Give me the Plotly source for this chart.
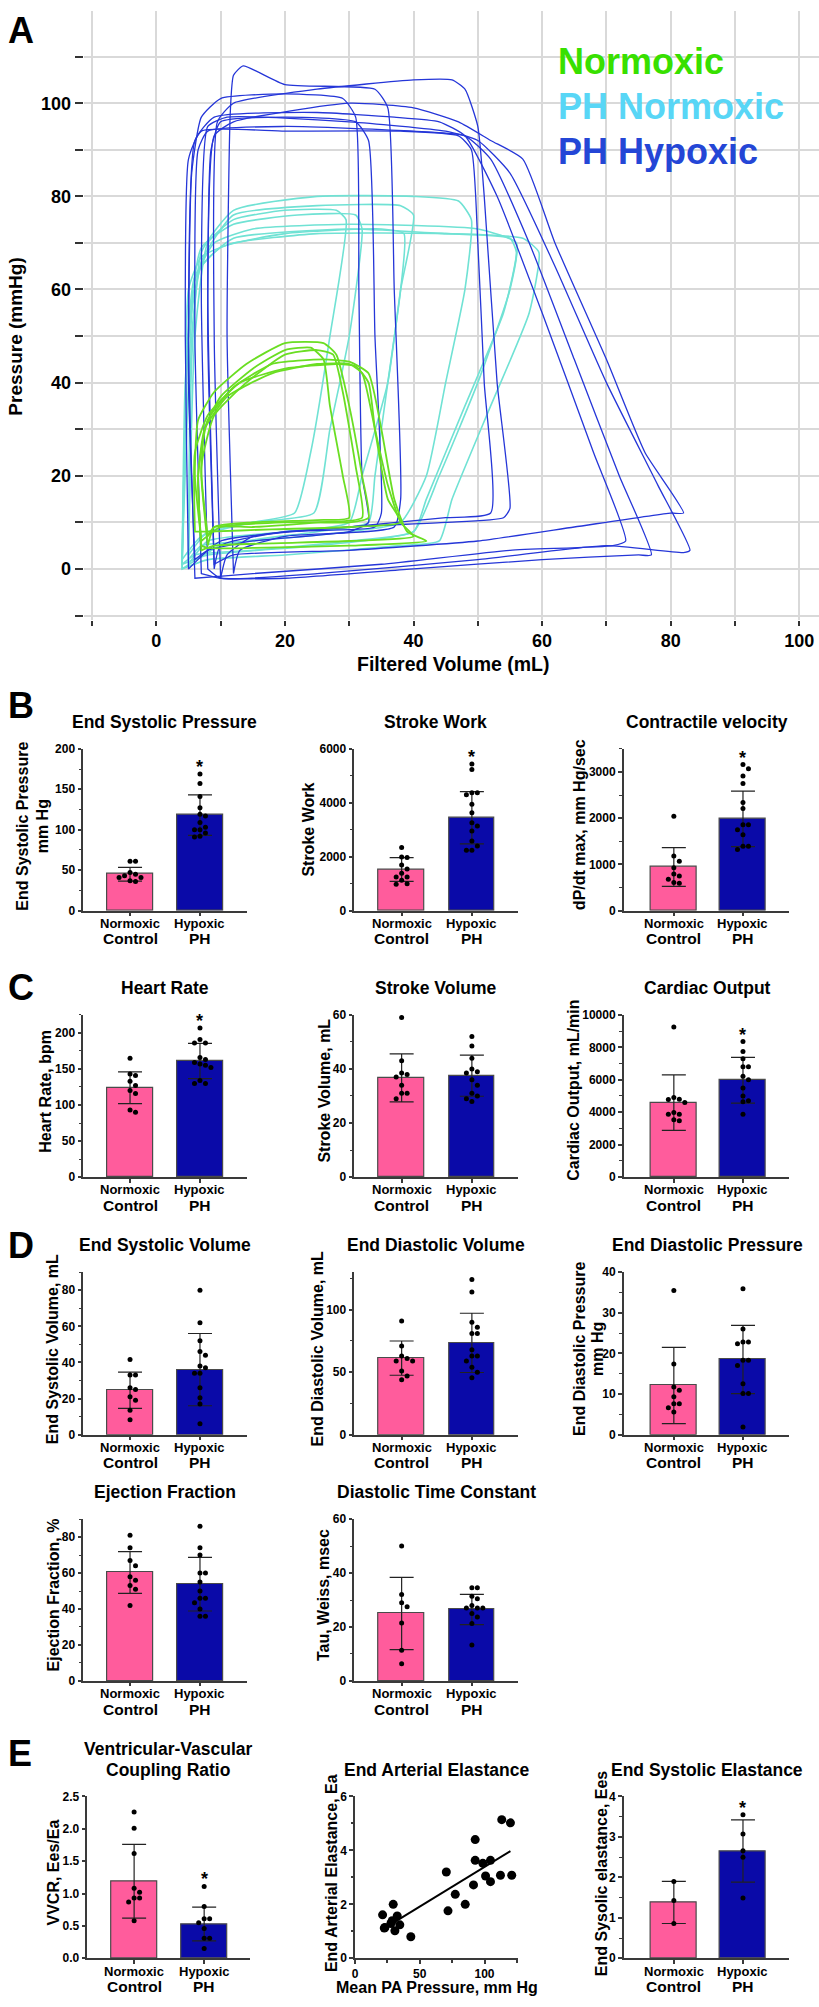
import numpy as np
import plotly.graph_objects as go

# ---------------- DATA ----------------
# Panel A: pressure-volume loops, (volume mL, pressure mmHg) vertices
NORMOXIC_LOOPS = [
    [(7,6),(6,20),(6.5,32),(9,38),(14,44),(20,48.5),(26,48.5),(28,46),(30,35),(32,20),(33,11),(30,10),(20,10),(10,9),(7,6)],
    [(8,5),(7,20),(7.5,30),(10,37),(15,43),(20,47),(24,47.5),(26,45),(27,35),(29,20),(30,11),(25,10.5),(15,10),(9,9),(8,5)],
    [(6,8),(6,25),(8,33),(13,40),(20,43),(28,44),(31,43.5),(33,40),(34,30),(36,15),(38,10),(30,9),(18,8.5),(8,8),(6,8)],
    [(7,4),(6.5,20),(7.5,30),(11,37),(18,42),(25,44),(30,44),(32,42),(34,30),(36,18),(38,10),(40,7),(30,6),(18,5.5),(9,5),(7,4)],
    [(8,7),(7,22),(9,33),(14,40),(20,46),(25,47),(27.5,46),(29,38),(31,22),(32,11),(25,10),(15,9),(9,9),(8,7)],
    [(7,5),(6.5,20),(8,32),(12,39),(18,44),(26,45),(30,44.5),(33,42),(35,30),(37,15),(39,8),(42,6),(30,5),(15,4.5),(8,4.5),(7,5)],
]
PH_NORMOXIC_LOOPS = [
    [(4,0),(4.5,30),(5,60),(7,67),(12,70),(25,72),(45,72),(57,71),(59.5,68),(58,55),(52,35),(46,15),(44,6),(38,5),(20,3),(8,2),(4,0)],
    [(4,1),(5,40),(6,62),(9,70),(15,73),(30,74),(50,73),(56,70),(55,60),(50,40),(44,20),(40,8),(30,6),(15,4),(6,3),(4,1)],
    [(5,2),(5.5,45),(7,68),(12,77),(25,80),(40,80),(47,79),(49,75),(48,60),(45,40),(42,20),(38,10),(30,8),(15,6),(7,5),(5,2)],
    [(5,3),(6,50),(8,70),(12,75),(20,77),(28,77),(29.5,75),(27,50),(24,25),(21.5,12),(15,10),(8,8),(5,3)],
    [(4,2),(5,50),(7,69),(12,74),(22,76),(31,76),(32,73),(30,50),(27,30),(24.5,12),(15,10),(7,7),(4,2)],
    [(4,0),(4.5,40),(6,63),(10,69),(20,72),(35,73),(38.5,72),(38,60),(36,40),(34,20),(33,10),(25,8),(10,5),(4,0)],
    [(4,1),(5,50),(7,65),(12,71),(30,73),(45,72),(55,71),(56,68),(54,55),(48,35),(42,15),(40,8),(25,5),(8,3),(4,1)],
    [(5,1),(5.5,50),(7,66),(12,76),(25,78),(38,78),(40,76),(38,60),(36,40),(32,20),(30,10),(20,8),(8,6),(5,1)],
]
PH_HYPOXIC_LOOPS = [
    [(6,2),(5,40),(5.5,85),(7,97),(10,101),(20,102),(29,101),(31,97),(31.5,60),(32,20),(33,10),(30,8),(15,6),(8,4),(6,2)],
    [(9,0),(8,50),(8.5,90),(10,96),(20,97),(31,96),(33,92),(34,50),(35,12),(34,9),(20,8),(10,5),(9,0)],
    [(12,-1),(11,50),(11.5,98),(12,106),(13.5,108),(20,104),(34,103),(36,99),(37,60),(38,15),(37,9),(20,7),(13,4),(12,-1)],
    [(10,-2),(9,50),(9.5,96),(12,100),(25,103),(40,105),(46,105),(48,103),(50,95),(51,80),(53,40),(55,13),(54,11),(45,10),(30,9),(15,7),(11,3),(10,-2)],
    [(7,-1),(6,50),(6.5,90),(8,94),(20,95),(40,94),(48,93),(52,88),(58,70),(65,45),(72,20),(77,3),(75,3),(60,2),(40,0),(20,-2),(10,-2),(7,-1)],
    [(8,0),(7,60),(8,95),(11,97),(30,96),(45,94),(50,92),(55,85),(62,65),(70,40),(78,18),(83,4),(82,3.5),(70,5),(50,2),(25,-1),(10,-2),(8,0)],
    [(9,1),(8,60),(9,93),(12,96),(30,100),(40,99),(47,96),(52,92),(57,88),(62,70),(70,45),(76,25),(82,12),(80,12),(65,9),(50,6),(30,4),(12,3),(9,1)],
    [(6,-2),(5,50),(6,92),(9,97),(25,98),(37,97),(44,96),(48,93),(53,80),(60,55),(68,25),(73,6),(71,5),(55,4),(35,1),(15,-1),(6,-2)],
    [(5,0),(4.5,50),(5,88),(7,94),(20,94),(38,94),(47,93),(49,90),(50,70),(51,40),(52,12),(45,11),(30,9),(10,6),(5,0)],
]

GROUPS = ["Normoxic", "Hypoxic"]
GROUPS_L2 = ["Control", "PH"]

ESP_norm = [61, 61, 47, 45, 43, 41, 41, 37, 36]
ESP_hyp = [169, 157, 141, 127, 119, 117, 109, 103, 100, 100, 96, 92, 91]
ESP_mean = [45, 118]
ESP_sd = [8.5, 25]

SW_norm = [2340, 1990, 1970, 1690, 1540, 1390, 1250, 1250, 1130, 1000, 980]
SW_hyp = [5440, 5230, 4370, 4370, 4300, 3940, 3630, 3260, 3140, 2950, 2580, 2400, 2240, 2240]
SW_mean = [1525, 3444]
SW_sd = [443, 970]

DPDT_norm = [2040, 1180, 1070, 930, 790, 750, 680, 610, 590]
DPDT_hyp = [3160, 3070, 2910, 2750, 2340, 2210, 1860, 1860, 1750, 1640, 1390, 1390, 1320]
DPDT_mean = [943, 1986]
DPDT_sd = [420, 600]

HR_norm = [165, 143, 141, 133, 127, 120, 116, 93, 90]
HR_hyp = [207, 191, 186, 186, 166, 163, 159, 157, 155, 152, 134, 130, 130]
HR_mean = [124, 161]
HR_sd = [22, 24.5]

SV_norm = [59, 43, 38.5, 38, 37, 34, 31, 31, 29]
SV_hyp = [52, 48.5, 44, 40, 39, 38.5, 36, 34, 31, 30, 29, 28]
SV_mean = [36.7, 37.5]
SV_sd = [8.9, 7.6]

CO_norm = [9250, 4900, 4800, 4790, 4600, 3980, 3880, 3870, 3530, 3470]
CO_hyp = [8360, 7750, 7300, 6800, 6800, 6220, 6000, 5500, 5000, 4700, 4650, 3880]
CO_mean = [4592, 5976]
CO_sd = [1715, 1410]

ESV_norm = [41.6, 33, 33, 26, 25, 21, 19, 13.5, 8.3]
ESV_hyp = [80, 62, 52, 46, 44, 38, 37, 34, 34, 26, 20.5, 17, 6]
ESV_mean = [24.6, 36]
ESV_sd = [10, 20]

EDV_norm = [91, 71, 63, 61, 59, 59, 51, 47, 44]
EDV_hyp = [124, 114, 90, 86, 81, 81, 68, 63, 63, 59, 54, 50, 45.5]
EDV_mean = [61.2, 73.4]
EDV_sd = [13.7, 23.7]

EDP_norm = [35.5, 17.4, 11.7, 10.9, 9.3, 7.6, 7.6, 6.6, 5.6]
EDP_hyp = [35.9, 26, 22.8, 22.8, 22.4, 18.3, 18.3, 17, 12.5, 10.1, 10.1, 1.9]
EDP_mean = [12.1, 18.5]
EDP_sd = [9.4, 8.4]

EF_norm = [81, 74, 67, 64, 58, 56, 53, 51, 42]
EF_hyp = [86, 74, 70, 60, 60, 55, 50, 46, 46, 43.5, 40, 36, 36]
EF_mean = [60.3, 53.8]
EF_sd = [11.6, 14.9]

TAU_norm = [50, 32, 29, 27.5, 21.5, 11.4, 6.4]
TAU_hyp = [34.5, 34.5, 31.4, 30.5, 28, 27, 27, 27, 25, 23.7, 21.3, 13.3]
TAU_mean = [25, 26.5]
TAU_sd = [13.4, 5.6]

VVCR_norm = [2.26, 2.01, 1.62, 1.08, 1.02, 0.93, 0.93, 0.87, 0.58]
VVCR_hyp = [1.11, 0.80, 0.61, 0.61, 0.55, 0.46, 0.31, 0.31, 0.15]
VVCR_mean = [1.19, 0.53]
VVCR_sd = [0.57, 0.26]

ESE_norm = [1.90, 1.43, 0.86]
ESE_hyp = [3.55, 3.07, 2.66, 2.50, 1.49]
ESE_mean = [1.38, 2.65]
ESE_sd = [0.52, 0.77]

MPAP = [21.3, 22.6, 23.1, 27.7, 28.7, 29.5, 30.8, 32.6, 34.6, 43.1, 70.5, 71.8, 77.4, 85.1,
        91.5, 92.8, 92.8, 98.7, 100.8, 104.6, 104.6, 112.3, 113.3, 120, 121]
EA = [1.61, 1.12, 1.14, 1.29, 1.39, 2.00, 1.02, 1.57, 1.24, 0.80, 3.20, 1.76, 2.37, 2.00,
      2.72, 4.40, 3.63, 3.52, 3.05, 3.63, 2.84, 3.08, 5.14, 5.02, 3.08]
FIT_SPAN = [28.5, 120]

# ---------------- STYLE / LAYOUT ----------------
W, H = 819, 2007
FONT = "Liberation Sans, Arial, Helvetica, sans-serif"
PINK = "#ff5c9c"
NAVY = "#0a0aa8"
AXC = "#3a3a3a"
C_GREEN, C_CYAN, C_BLUE = "#6ade22", "#70e2d4", "#2536d8"

fig = go.Figure()
layout = {}
annotations = []


def fx(px):
    return px / W


def fy(py):
    return 1 - py / H


def ann(text, xpx, ypx, size, angle=0, color="black", xanchor="center", weight="bold"):
    annotations.append(dict(text=text, x=fx(xpx), y=fy(ypx), xref="paper", yref="paper",
                            showarrow=False, xanchor=xanchor, yanchor="middle", textangle=angle,
                            font=dict(family=FONT, size=size, color=color, weight=weight)))


# ---- Panel A ----
for loops, color, width in [(PH_NORMOXIC_LOOPS, C_CYAN, 1.6), (PH_HYPOXIC_LOOPS, C_BLUE, 1.3),
                            (NORMOXIC_LOOPS, C_GREEN, 1.8)]:
    for loop in loops:
        v = [p[0] for p in loop] + [loop[0][0]]
        p = [p[1] for p in loop] + [loop[0][1]]
        fig.add_trace(go.Scatter(x=v, y=p, mode="lines", xaxis="x", yaxis="y",
                                 line=dict(color=color, width=width, shape="spline", smoothing=0.5),
                                 hoverinfo="skip", showlegend=False))

tv = list(range(-10, 111, 10))
tick_font_A = dict(family=FONT, size=18, color="black", weight="bold")
layout["xaxis"] = dict(domain=[fx(81), 1], range=[-11.3, 103.07], anchor="y",
                       tickvals=tv[:-1], ticktext=[str(t) if t >= 0 and t % 20 == 0 else "" for t in tv[:-1]],
                       ticks="outside", ticklen=5, tickcolor="#333", tickwidth=1.5,
                       showgrid=True, gridcolor="#d9d9d9", gridwidth=1.5, zeroline=False,
                       showline=False, tickfont=tick_font_A, ticklabeloverflow="allow")
layout["yaxis"] = dict(domain=[fy(617), fy(4)], range=[-10.9, 119.8], anchor="x",
                       tickvals=tv, ticktext=[str(t) if t >= 0 and t % 20 == 0 and t <= 100 else "" for t in tv],
                       ticks="outside", ticklen=8, tickcolor="#333", tickwidth=1.5,
                       showgrid=True, gridcolor="#d9d9d9", gridwidth=1.5, zeroline=False,
                       showline=False, tickfont=tick_font_A)
ann("A", 3, 24, 36, xanchor="left")
ann("Normoxic", 555, 55, 36, color="#38e000", xanchor="left")
ann("PH Normoxic", 555, 100, 36, color="#58d6f6", xanchor="left")
ann("PH Hypoxic", 555, 146, 36, color="#2446d6", xanchor="left")
ann("Pressure (mmHg)", 13, 332, 19, angle=-90)
ann("Filtered Volume (mL)", 452, 662, 19.5)


# ---- bar panels ----
def swarm(vals, px_per_unit, step=5.5, cat_px=70.0):
    placed, offs = [], []
    for v in vals:
        y = v * px_per_unit
        xo = 0.0
        for k in [0, 1, -1, 2, -2, 3, -3, 4, -4]:
            xo = k * step
            if all((xo - px) ** 2 + (y - py) ** 2 >= step ** 2 for py, px in placed):
                break
        placed.append((y, xo))
        offs.append(xo / cat_px)
    return offs


# column geometry: (axis px, category-0 centre px, category-1 centre px, axis end px)
COL1 = (80.5, 127.5, 197.7, 244.4)
COL2 = (352.6, 400.1, 470.6, 517.1)
COL3 = (623.0, 673.3, 742.7, 788.7)
COL1E = (84.6, 131.6, 201.9, 248.1)
ROW_B, ROW_C, ROW_D, ROW_D2, ROW_E = (747, 910), (1015, 1178.3), (1274, 1437.7), (1522.7, 1685.7), (1802, 1965)

panels = [
    (COL1, ROW_B, [0, 200], 50, 25, ESP_norm, ESP_hyp, ESP_mean, ESP_sd, True, None),
    (COL2, ROW_B, [0, 6000], 2000, 1000, SW_norm, SW_hyp, SW_mean, SW_sd, True, None),
    (COL3, ROW_B, [0, 3500], 1000, 500, DPDT_norm, DPDT_hyp, DPDT_mean, DPDT_sd, True, None),
    (COL1, ROW_C, [0, 225], 50, 25, HR_norm, HR_hyp, HR_mean, HR_sd, True, None),
    (COL2, ROW_C, [0, 60], 20, 10, SV_norm, SV_hyp, SV_mean, SV_sd, False, None),
    (COL3, ROW_C, [0, 10000], 2000, 1000, CO_norm, CO_hyp, CO_mean, CO_sd, True, "d"),
    (COL1, ROW_D, [0, 90], 20, 10, ESV_norm, ESV_hyp, ESV_mean, ESV_sd, False, None),
    (COL2, ROW_D, [0, 130], 50, 25, EDV_norm, EDV_hyp, EDV_mean, EDV_sd, False, None),
    (COL3, ROW_D, [0, 40], 10, 5, EDP_norm, EDP_hyp, EDP_mean, EDP_sd, False, None),
    (COL1, ROW_D2, [0, 90], 20, 10, EF_norm, EF_hyp, EF_mean, EF_sd, False, None),
    (COL2, ROW_D2, [0, 60], 20, 10, TAU_norm, TAU_hyp, TAU_mean, TAU_sd, False, None),
    (COL1E, ROW_E, [0, 2.5], 0.5, None, VVCR_norm, VVCR_hyp, VVCR_mean, VVCR_sd, True, ".1f"),
    (COL3, ROW_E, [0, 4], 1, 0.5, ESE_norm, ESE_hyp, ESE_mean, ESE_sd, True, None),
]

tick_font = dict(family=FONT, size=12, color="black", weight="bold")
idx = 2
for col, row, yr, dt, mdt, norm, hyp, mean, sd, star, tfmt in panels:
    xn, yn = f"x{idx}", f"y{idx}"
    axis_px, c0, c1, end_px = col
    sp = c1 - c0
    ppu = (row[1] - row[0]) / (yr[1] - yr[0])
    fig.add_trace(go.Bar(x=[0, 1], y=mean, width=46 / sp, xaxis=xn, yaxis=yn,
                         marker=dict(color=[PINK, NAVY], line=dict(color="#4a4a4a", width=1.2)),
                         error_y=dict(type="data", array=sd, color="#222", thickness=1.2, width=12),
                         hoverinfo="skip", showlegend=False))
    on = swarm(norm, ppu, cat_px=sp)
    oh = swarm(hyp, ppu, cat_px=sp)
    fig.add_trace(go.Scatter(x=[0 + o for o in on] + [1 + o for o in oh], y=list(norm) + list(hyp),
                             mode="markers", xaxis=xn, yaxis=yn,
                             marker=dict(color="black", size=5), hoverinfo="skip", showlegend=False))
    layout[f"xaxis{idx}"] = dict(domain=[fx(axis_px), fx(end_px)],
                                 range=[-(c0 - axis_px) / sp, 1 + (end_px - c1) / sp], anchor=yn,
                                 tickvals=[0, 1], ticktext=["", ""], ticks="outside", ticklen=3.5,
                                 tickcolor=AXC, tickwidth=1.5, showline=True, linecolor=AXC, linewidth=2,
                                 showgrid=False, zeroline=False)
    ya = dict(domain=[fy(row[1]), fy(row[0])], range=yr, anchor=xn, dtick=dt, tick0=0,
              ticks="outside", ticklen=3.7, tickcolor=AXC, tickwidth=1.5, showline=True, linecolor=AXC,
              linewidth=2, showgrid=False, zeroline=False, tickfont=tick_font)
    if mdt:
        ya["minor"] = dict(ticks="outside", ticklen=2.3, dtick=mdt, tick0=0, tickcolor=AXC, tickwidth=1.2,
                           showgrid=False)
    if tfmt:
        ya["tickformat"] = tfmt
    layout[f"yaxis{idx}"] = ya
    # category labels (two lines of different size)
    for k in range(2):
        annotations.append(dict(text=GROUPS[k], x=k, y=fy(row[1] + 12.8), xref=xn, yref="paper",
                                showarrow=False, yanchor="middle",
                                font=dict(family=FONT, size=13, color="black", weight="bold")))
        annotations.append(dict(text=GROUPS_L2[k], x=k, y=fy(row[1] + 28.3), xref=xn, yref="paper",
                                showarrow=False, yanchor="middle",
                                font=dict(family=FONT, size=15.5, color="black", weight="bold")))
    if star:
        annotations.append(dict(text="*", x=1, y=max(hyp), xref=xn, yref=yn, showarrow=False,
                                yanchor="middle", yshift=7,
                                font=dict(family=FONT, size=18, color="black", weight="bold")))
    idx += 1

# ---- scatter panel (End Arterial Elastance) ----
xn, yn = f"x{idx}", f"y{idx}"
coef = np.polyfit(MPAP, EA, 1)
fit_x = np.array(FIT_SPAN)
fig.add_trace(go.Scatter(x=fit_x, y=np.polyval(coef, fit_x), mode="lines", xaxis=xn, yaxis=yn,
                         line=dict(color="black", width=2), hoverinfo="skip", showlegend=False))
fig.add_trace(go.Scatter(x=MPAP, y=EA, mode="markers", xaxis=xn, yaxis=yn,
                         marker=dict(color="black", size=9), hoverinfo="skip", showlegend=False))
layout[f"xaxis{idx}"] = dict(domain=[fx(353.3), fx(516.7)], range=[0, 125.7], anchor=yn, dtick=50, tick0=0,
                             ticks="outside", ticklen=3.5, tickcolor=AXC, tickwidth=1.5, showline=True,
                             linecolor=AXC, linewidth=2, showgrid=False, zeroline=False, tickfont=tick_font,
                             minor=dict(ticks="outside", ticklen=2.3, dtick=25, tick0=0, tickcolor=AXC))
layout[f"yaxis{idx}"] = dict(domain=[fy(ROW_E[1]), fy(ROW_E[0])], range=[0, 6], anchor=xn, dtick=2, tick0=0,
                             ticks="outside", ticklen=3.7, tickcolor=AXC, tickwidth=1.5, showline=True,
                             linecolor=AXC, linewidth=2, showgrid=False, zeroline=False, tickfont=tick_font,
                             minor=dict(ticks="outside", ticklen=2.3, dtick=1, tick0=0, tickcolor=AXC))

# ---- panel letters, titles, axis titles ----
for letter, y in [("B", 703), ("C", 987), ("D", 1247), ("E", 1759)]:
    ann(letter, 3, y, 36, xanchor="left")

TS = 17.5
for text, x, y in [("End Systolic Pressure", 162.5, 720), ("Stroke Work", 434.5, 720),
                   ("Contractile velocity", 707, 720),
                   ("Heart Rate", 162.5, 988), ("Stroke Volume", 434.5, 988), ("Cardiac Output", 707, 988),
                   ("End Systolic Volume", 163, 1247), ("End Diastolic Volume", 434.5, 1247),
                   ("End Diastolic Pressure", 707.5, 1247),
                   ("Ejection Fraction", 162.5, 1495), ("Diastolic Time Constant", 435, 1495),
                   ("Ventricular-Vascular", 166, 1754), ("Coupling Ratio", 166, 1775),
                   ("End Arterial Elastance", 435, 1775), ("End Systolic Elastance", 707, 1775)]:
    ann(text, x, y, TS)

YS = 16
for text, x, y in [("End Systolic Pressure", 19.5, 825), ("mm Hg", 39.2, 825),
                   ("Stroke Work", 306.5, 828),
                   ("dP/dt max, mm Hg/sec", 578, 823),
                   ("Heart Rate, bpm", 42.5, 1092), ("Stroke Volume, mL", 322.4, 1091),
                   ("Cardiac Output, mL/min", 572.5, 1091),
                   ("End Systolic Volume, mL", 49.8, 1352), ("End Diastolic Volume, mL", 316, 1351),
                   ("End Diastolic Pressure", 578.5, 1351), ("mm Hg", 596.6, 1351),
                   ("Ejection Fraction, %", 50.8, 1599), ("Tau, Weiss, msec", 322.4, 1599),
                   ("VVCR, Ees/Ea", 50.8, 1879), ("End Arterial Elastance, Ea", 330.4, 1879),
                   ("End Sysolic elastance, Ees", 601.5, 1879)]:
    ann(text, x, y, YS, angle=-90)
ann("Mean PA Pressure, mm Hg", 436, 1994, 16)

layout.update(width=W, height=H, margin=dict(l=0, r=0, t=0, b=0), paper_bgcolor="white",
              plot_bgcolor="white", showlegend=False, annotations=annotations, bargap=0)
fig.update_layout(**layout)
fig.write_html("out.html", config={"displayModeBar": False},
               post_script="document.body.style.margin='0px';")
